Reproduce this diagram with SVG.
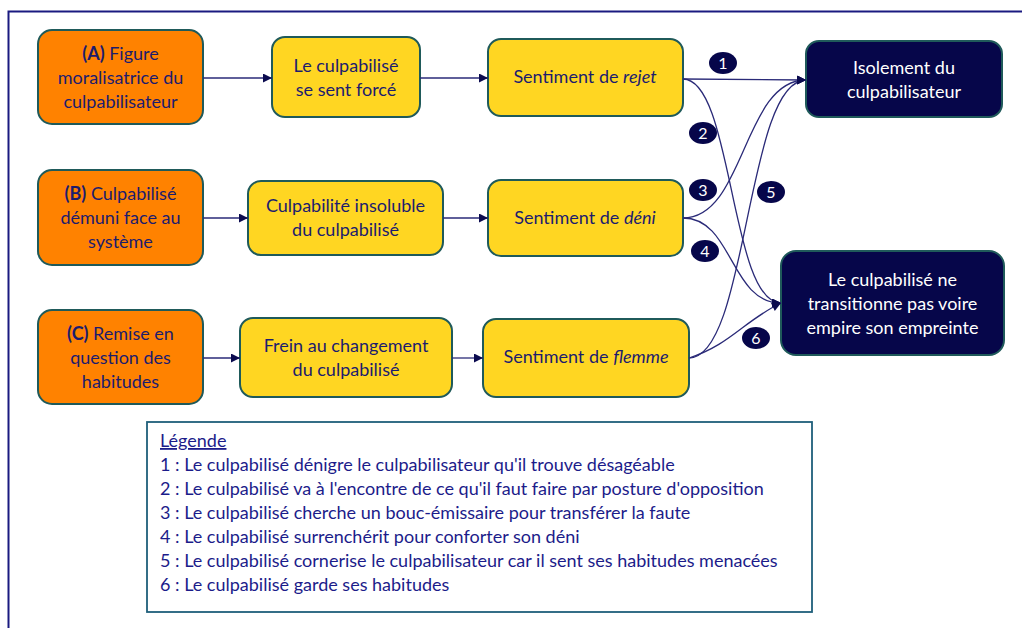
<svg xmlns="http://www.w3.org/2000/svg" width="1022" height="628" viewBox="0 0 1022 628">
<defs>
<marker id="ah" viewBox="0 0 10 10" refX="10" refY="5" markerWidth="10" markerHeight="9" markerUnits="userSpaceOnUse" orient="auto">
<path d="M0,0 L10,5 L0,10 z" fill="#0b0b4f"/>
</marker>
</defs>
<style>
text{font-family:Lato,"Liberation Sans",sans-serif;fill:#1c1c6e;text-anchor:middle;font-size:18px}
.or{fill:#ff8200;stroke:#1f5a5a;stroke-width:2}
.ye{fill:#ffd622;stroke:#1f5a5a;stroke-width:2}
.nv{fill:#06064a;stroke:#1f5a5a;stroke-width:2}
.w{fill:#ffffff}
.b{font-weight:bold}
.c{fill:none;stroke:#2a2a78;stroke-width:1.3}
.bd{fill:#06064a}
.bt{fill:#ffffff;font-size:16px}
.lg{text-anchor:start;font-size:18px;fill:#1c1c8a}
</style>
<rect x="0" y="0" width="1022" height="628" fill="#ffffff"/>
<path d="M8.5,640 L8.5,11.5 L1030,11.5" fill="none" stroke="#1a1a80" stroke-width="2"/>

<g id="nodeA"><rect class="or" x="38" y="30" width="165" height="94" rx="14"/><text x="120.5" y="60"><tspan class="b">(A)</tspan> Figure</text><text x="120.5" y="84">moralisatrice du</text><text x="120.5" y="108">culpabilisateur</text></g>
<g id="nodeForce"><rect class="ye" x="272" y="37" width="148" height="80" rx="13"/><text x="346" y="72">Le culpabilisé</text><text x="346" y="96">se sent forcé</text></g>
<g id="nodeRejet"><rect class="ye" x="488" y="39" width="195" height="77" rx="13"/><text x="585" y="83">Sentiment de <tspan font-style="italic">rejet</tspan></text></g>
<g id="nodeIsolement"><rect class="nv" x="806" y="41" width="196" height="76" rx="13"/><text class="w" x="904" y="74">Isolement du</text><text class="w" x="904" y="98">culpabilisateur</text></g>

<g id="nodeB"><rect class="or" x="38" y="170" width="165" height="95" rx="14"/><text x="120.5" y="200"><tspan class="b">(B)</tspan> Culpabilisé</text><text x="120.5" y="224">démuni face au</text><text x="120.5" y="248">système</text></g>
<g id="nodeInsoluble"><rect class="ye" x="248" y="181" width="195" height="74" rx="13"/><text x="345.5" y="212">Culpabilité insoluble</text><text x="345.5" y="236">du culpabilisé</text></g>
<g id="nodeDeni"><rect class="ye" x="488" y="180" width="195" height="76" rx="13"/><text x="585" y="224">Sentiment de <tspan font-style="italic">déni</tspan></text></g>

<g id="nodeC"><rect class="or" x="38" y="310" width="165" height="94" rx="14"/><text x="120.5" y="340"><tspan class="b">(C)</tspan> Remise en</text><text x="120.5" y="364">question des</text><text x="120.5" y="388">habitudes</text></g>
<g id="nodeFrein"><rect class="ye" x="240" y="318" width="212" height="79" rx="13"/><text x="346" y="352">Frein au changement</text><text x="346" y="376">du culpabilisé</text></g>
<g id="nodeFlemme"><rect class="ye" x="483" y="319" width="206" height="78" rx="13"/><text x="586" y="363">Sentiment de <tspan font-style="italic">flemme</tspan></text></g>
<g id="nodeTransition"><rect class="nv" x="781" y="251" width="223" height="104" rx="15"/><text class="w" x="892.5" y="286">Le culpabilisé ne</text><text class="w" x="892.5" y="310">transitionne pas voire</text><text class="w" x="892.5" y="334">empire son empreinte</text></g>

<g id="connectors">
<path class="c" d="M203,78 L272,78" marker-end="url(#ah)"/>
<path class="c" d="M420,78 L488,78" marker-end="url(#ah)"/>
<path class="c" d="M203,218 L248,218" marker-end="url(#ah)"/>
<path class="c" d="M443,218 L488,218" marker-end="url(#ah)"/>
<path class="c" d="M203,358 L240,358" marker-end="url(#ah)"/>
<path class="c" d="M452,358 L483,358" marker-end="url(#ah)"/>
<path class="c" d="M683,79 L806,80" marker-end="url(#ah)"/>
<path class="c" d="M683,79 C733,79 730,303 781,303" marker-end="url(#ah)"/>
<path class="c" d="M683,218 C745,218 743,80 806,80" marker-end="url(#ah)"/>
<path class="c" d="M683,218 C733,218 730,303 781,303" marker-end="url(#ah)"/>
<path class="c" d="M689,358 C748,358 746,80 806,80" marker-end="url(#ah)"/>
<path class="c" d="M689,358 C730,345 745,320 781,303" marker-end="url(#ah)"/>
</g>

<g id="badges">
<ellipse class="bd" cx="723" cy="63" rx="14" ry="11"/><text class="bt" x="723" y="69">1</text>
<ellipse class="bd" cx="703" cy="133" rx="14" ry="11"/><text class="bt" x="703" y="139">2</text>
<ellipse class="bd" cx="703" cy="190" rx="14" ry="11"/><text class="bt" x="703" y="196">3</text>
<ellipse class="bd" cx="705" cy="251" rx="14" ry="11"/><text class="bt" x="705" y="257">4</text>
<ellipse class="bd" cx="771" cy="192" rx="14" ry="11"/><text class="bt" x="771" y="198">5</text>
<ellipse class="bd" cx="756" cy="338" rx="14" ry="11"/><text class="bt" x="756" y="344">6</text>
</g>

<g id="legend">
<rect x="147" y="422" width="665" height="190" fill="#ffffff" stroke="#1f5f7a" stroke-width="1.8"/>
<text class="lg" x="160" y="447" text-decoration="underline">Légende</text>
<text class="lg" x="160" y="471">1 : Le culpabilisé dénigre le culpabilisateur qu'il trouve désagéable</text>
<text class="lg" x="160" y="495">2 : Le culpabilisé va à l'encontre de ce qu'il faut faire par posture d'opposition</text>
<text class="lg" x="160" y="519">3 : Le culpabilisé cherche un bouc-émissaire pour transférer la faute</text>
<text class="lg" x="160" y="543">4 : Le culpabilisé surrenchérit pour conforter son déni</text>
<text class="lg" x="160" y="567">5 : Le culpabilisé cornerise le culpabilisateur car il sent ses habitudes menacées</text>
<text class="lg" x="160" y="591">6 : Le culpabilisé garde ses habitudes</text>
</g>
</svg>
